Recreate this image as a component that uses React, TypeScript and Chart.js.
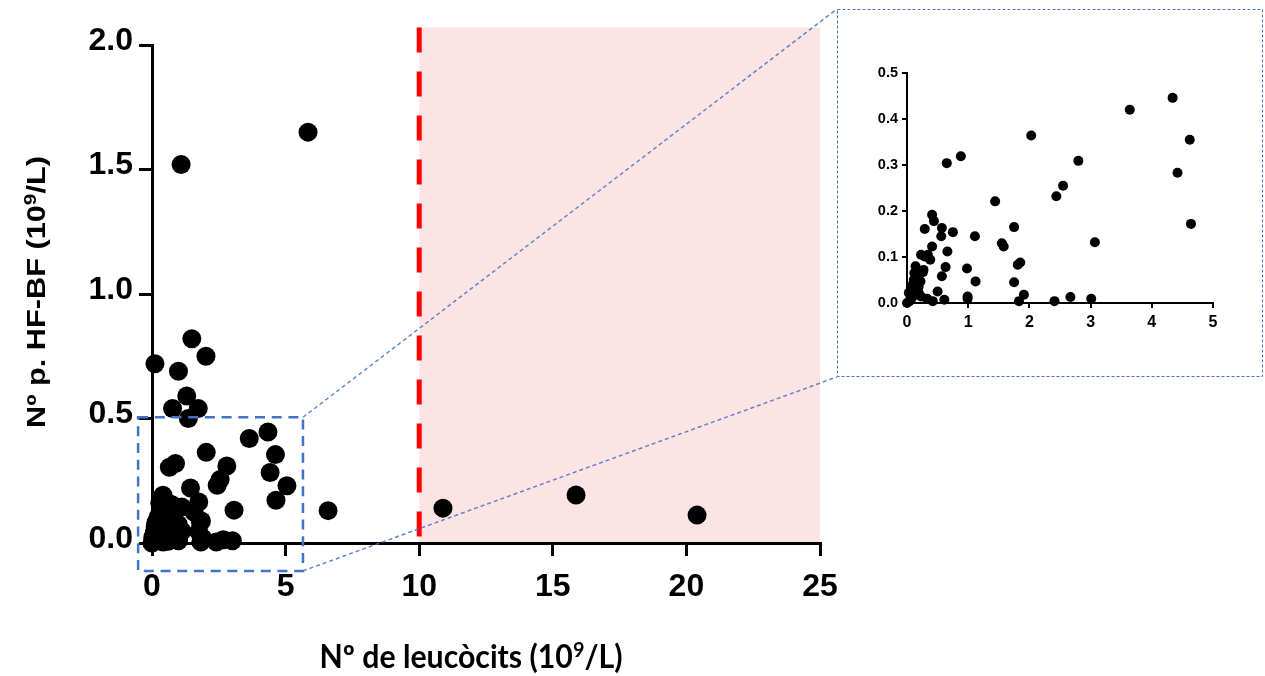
import React, { useEffect, useRef } from "react";
import { Chart, registerables } from "chart.js";

Chart.register(...registerables);

// ---- data ----
// points visible in the zoomed inset (x: 0–5, y: 0–0.5)
const insetX = [
  4.34, 3.64, 4.62, 4.42, 4.64, 2.03, 0.65, 0.88, 2.8, 2.55,
  2.44, 1.44, 1.75, 3.07, 1.55, 1.58, 1.81, 1.85, 1.75, 1.91,
  1.83, 2.41, 2.67, 3.01, 1.11, 1.12, 0.98, 0.99, 0.99, 0.75,
  0.57, 0.56, 0.66, 0.63, 0.57, 0.61, 0.5, 0.41, 0.44, 0.29,
  0.41, 0.38, 0.23, 0.34, 0.42, 0.33, 0.14, 0.26, 0.16, 0.19,
  0.11, 0.08, 0.04, 0.23, 0.15, 0.12, 0.22, 0.08, 0.0, 0.19,
  0.11, 0.08, 0.27, 0.29, 0.03,
];
const insetY = [
  0.446, 0.42, 0.355, 0.283, 0.172, 0.364, 0.304, 0.319, 0.309, 0.255,
  0.232, 0.221, 0.165, 0.132, 0.13, 0.123, 0.083, 0.088, 0.045, 0.018,
  0.004, 0.004, 0.013, 0.009, 0.145, 0.047, 0.075, 0.014, 0.009, 0.154,
  0.163, 0.145, 0.112, 0.078, 0.058, 0.007, 0.025, 0.192, 0.178, 0.161,
  0.123, 0.094, 0.105, 0.105, 0.004, 0.009, 0.08, 0.067, 0.054, 0.036,
  0.036, 0.022, 0.004, 0.014, 0.025, 0.065, 0.047, 0.011, 0.0, 0.022,
  0.05, 0.038, 0.072, 0.101, 0.022,
];
// points only shown in the main chart
const extraX = [0.11, 0.99, 1.49, 2.02, 1.3, 0.77, 1.73, 1.36, 1.09, 5.84, 5.05, 6.59, 10.89, 15.87, 20.4];
const extraY = [0.72, 0.69, 0.82, 0.75, 0.59, 0.54, 0.54, 0.5, 1.52, 1.65, 0.23, 0.13, 0.14, 0.193, 0.112];

const mainXTicks = [0, 5, 10, 15, 20, 25];
const mainYTicks = [0, 0.5, 1.0, 1.5, 2.0];
const insetXTicks = [0, 1, 2, 3, 4, 5];
const insetYTicks = [0, 0.1, 0.2, 0.3, 0.4, 0.5];

const thresholdX = 10;
const zoneEndX = 25;
const zoneTopY = 2.07;
const zoomBoxX = [-0.52, 5.65];
const zoomBoxY = [-0.112, 0.505];

const xTitleParts = ["Nº de leucòcits (10", "9", "/L)"];
const yTitleParts = ["Nº p. HF-BF (10", "9", "/L)"];

// ---- layout ----
const W = 1265;
const H = 676;
const INSET = { left: 838, top: 10, width: 424, height: 366 };
const BLUE = "#4472C4";
const ARIAL = "'Liberation Sans', Arial, sans-serif";

function drawRich(
  ctx: CanvasRenderingContext2D,
  parts: string[],
  font: string,
  supFont: string,
  supRise: number,
  targetWidth: number | null
) {
  // draws centred at (0,0) on the baseline
  ctx.font = font;
  const w0 = ctx.measureText(parts[0]).width;
  const w2 = ctx.measureText(parts[2]).width;
  ctx.font = supFont;
  const w1 = ctx.measureText(parts[1]).width;
  const total = w0 + w1 + w2;
  const k = targetWidth ? targetWidth / total : 1;
  ctx.save();
  ctx.scale(k, 1);
  let x = -total / 2;
  ctx.textAlign = "left";
  ctx.textBaseline = "alphabetic";
  ctx.font = font;
  ctx.fillText(parts[0], x, 0);
  x += w0;
  ctx.font = supFont;
  ctx.fillText(parts[1], x, -supRise);
  x += w1;
  ctx.font = font;
  ctx.fillText(parts[2], x, 0);
  ctx.restore();
}

export default function App() {
  const mainRef = useRef<HTMLCanvasElement>(null);
  const insetRef = useRef<HTMLCanvasElement>(null);

  useEffect(() => {
    const mainPoints = insetX
      .map((x, i) => ({ x, y: insetY[i] }))
      .concat(extraX.map((x, i) => ({ x, y: extraY[i] })));
    const insetPoints = insetX.map((x, i) => ({ x, y: insetY[i] }));

    const decor = {
      id: "decor",
      beforeDraw(chart: any) {
        const { ctx, scales } = chart;
        const xs = scales.x;
        const ys = scales.y;
        const x0 = xs.getPixelForValue(thresholdX);
        const x1 = xs.getPixelForValue(zoneEndX);
        const yT = ys.getPixelForValue(zoneTopY);
        const yB = ys.getPixelForValue(0);
        ctx.save();
        ctx.fillStyle = "#FCE4E4";
        ctx.fillRect(x0, yT, x1 - x0, yB - yT);
        ctx.strokeStyle = "#FF0000";
        ctx.lineWidth = 5;
        ctx.setLineDash([25, 19]);
        ctx.beginPath();
        ctx.moveTo(x0, yT);
        ctx.lineTo(x0, yB);
        ctx.stroke();
        ctx.restore();
      },
      afterDraw(chart: any) {
        const { ctx, scales } = chart;
        const xs = scales.x;
        const ys = scales.y;
        const bl = xs.getPixelForValue(zoomBoxX[0]);
        const br = xs.getPixelForValue(zoomBoxX[1]);
        const bt = ys.getPixelForValue(zoomBoxY[1]);
        const bb = ys.getPixelForValue(zoomBoxY[0]);
        ctx.save();
        // zoom box
        ctx.strokeStyle = BLUE;
        ctx.lineWidth = 2.5;
        ctx.setLineDash([10, 6.7]);
        ctx.strokeRect(bl, bt, br - bl, bb - bt);
        // connectors
        ctx.lineWidth = 1.5;
        ctx.setLineDash([4, 3]);
        ctx.strokeStyle = "rgba(68,114,196,0.85)";
        ctx.beginPath();
        ctx.moveTo(br, bt);
        ctx.lineTo(INSET.left - 1, INSET.top - 1);
        ctx.moveTo(br, bb);
        ctx.lineTo(INSET.left - 1, INSET.top + INSET.height + 1);
        ctx.stroke();
        // inset frame
        ctx.lineWidth = 1;
        ctx.setLineDash([3, 2]);
        ctx.strokeStyle = BLUE;
        ctx.strokeRect(INSET.left - 0.5, INSET.top - 0.5, INSET.width + 1, INSET.height + 1);
        ctx.setLineDash([]);
        // titles
        ctx.fillStyle = "#000";
        ctx.save();
        ctx.translate(471, 668);
        drawRich(ctx, xTitleParts, "bold 32px Lato, sans-serif", "bold 21px Lato, sans-serif", 11, 303);
        ctx.restore();
        ctx.save();
        ctx.translate(45, 292);
        ctx.rotate(-Math.PI / 2);
        drawRich(ctx, yTitleParts, "bold 25px " + ARIAL, "bold 17px " + ARIAL, 9, 272);
        ctx.restore();
        ctx.restore();
      },
    };

    const axisCommon = (len: number, width: number) => ({
      grid: {
        display: true,
        drawOnChartArea: false,
        drawTicks: true,
        tickLength: len,
        color: "#000",
        lineWidth: width,
      },
      border: { display: true, color: "#000", width },
    });

    const main = new Chart(mainRef.current!, {
      type: "scatter",
      data: {
        datasets: [
          {
            data: mainPoints,
            pointRadius: 9.5,
            pointHoverRadius: 9.5,
            backgroundColor: "#000",
            borderWidth: 0,
            clip: false,
          } as any,
        ],
      },
      options: {
        animation: false,
        responsive: false,
        events: [],
        layout: { padding: { left: 0, top: 45, right: W - 820, bottom: 0 } },
        plugins: { legend: { display: false }, tooltip: { enabled: false } },
        scales: {
          x: {
            type: "linear",
            min: 0,
            max: 25,
            afterBuildTicks: (s: any) => {
              s.ticks = mainXTicks.map((v) => ({ value: v }));
            },
            afterFit: (s: any) => {
              s.height = H - 543;
            },
            ...axisCommon(13, 3),
            ticks: {
              color: "#000",
              font: { family: ARIAL, size: 32, weight: "bold" },
              padding: 12,
              maxRotation: 0,
              callback: (v: any) => String(v),
            },
          } as any,
          y: {
            type: "linear",
            min: 0,
            max: 2,
            afterBuildTicks: (s: any) => {
              s.ticks = mainYTicks.map((v) => ({ value: v }));
            },
            afterFit: (s: any) => {
              s.width = 152;
            },
            ...axisCommon(13, 3),
            ticks: {
              color: "#000",
              font: { family: ARIAL, size: 32, weight: "bold" },
              padding: 6,
              labelOffset: -4,
              callback: (v: any) => Number(v).toFixed(1),
            },
          } as any,
        },
      },
      plugins: [decor],
    });

    const inset = new Chart(insetRef.current!, {
      type: "scatter",
      data: {
        datasets: [
          {
            data: insetPoints,
            pointRadius: 5,
            pointHoverRadius: 5,
            backgroundColor: "#000",
            borderWidth: 0,
            clip: false,
          } as any,
        ],
      },
      options: {
        animation: false,
        responsive: false,
        events: [],
        layout: { padding: { left: 0, top: 63, right: 49, bottom: 0 } },
        plugins: { legend: { display: false }, tooltip: { enabled: false } },
        scales: {
          x: {
            type: "linear",
            min: 0,
            max: 5,
            afterBuildTicks: (s: any) => {
              s.ticks = insetXTicks.map((v) => ({ value: v }));
            },
            afterFit: (s: any) => {
              s.height = 73;
            },
            ...axisCommon(5, 2),
            ticks: {
              color: "#000",
              font: { family: ARIAL, size: 16, weight: "bold" },
              padding: 5,
              maxRotation: 0,
              callback: (v: any) => String(v),
            },
          } as any,
          y: {
            type: "linear",
            min: 0,
            max: 0.5,
            afterBuildTicks: (s: any) => {
              s.ticks = insetYTicks.map((v) => ({ value: v }));
            },
            afterFit: (s: any) => {
              s.width = 69;
            },
            ...axisCommon(5, 2),
            ticks: {
              color: "#000",
              font: { family: ARIAL, size: 14.5, weight: "bold" },
              padding: 4,
              callback: (v: any) => Number(v).toFixed(1),
            },
          } as any,
        },
      },
    });

    return () => {
      main.destroy();
      inset.destroy();
    };
  }, []);

  return (
    <div style={{ position: "fixed", left: 0, top: 0, width: W, height: H, background: "#fff" }}>
      <canvas ref={mainRef} width={W} height={H} style={{ position: "absolute", left: 0, top: 0 }} />
      <canvas
        ref={insetRef}
        width={INSET.width}
        height={INSET.height}
        style={{ position: "absolute", left: INSET.left, top: INSET.top }}
      />
    </div>
  );
}
